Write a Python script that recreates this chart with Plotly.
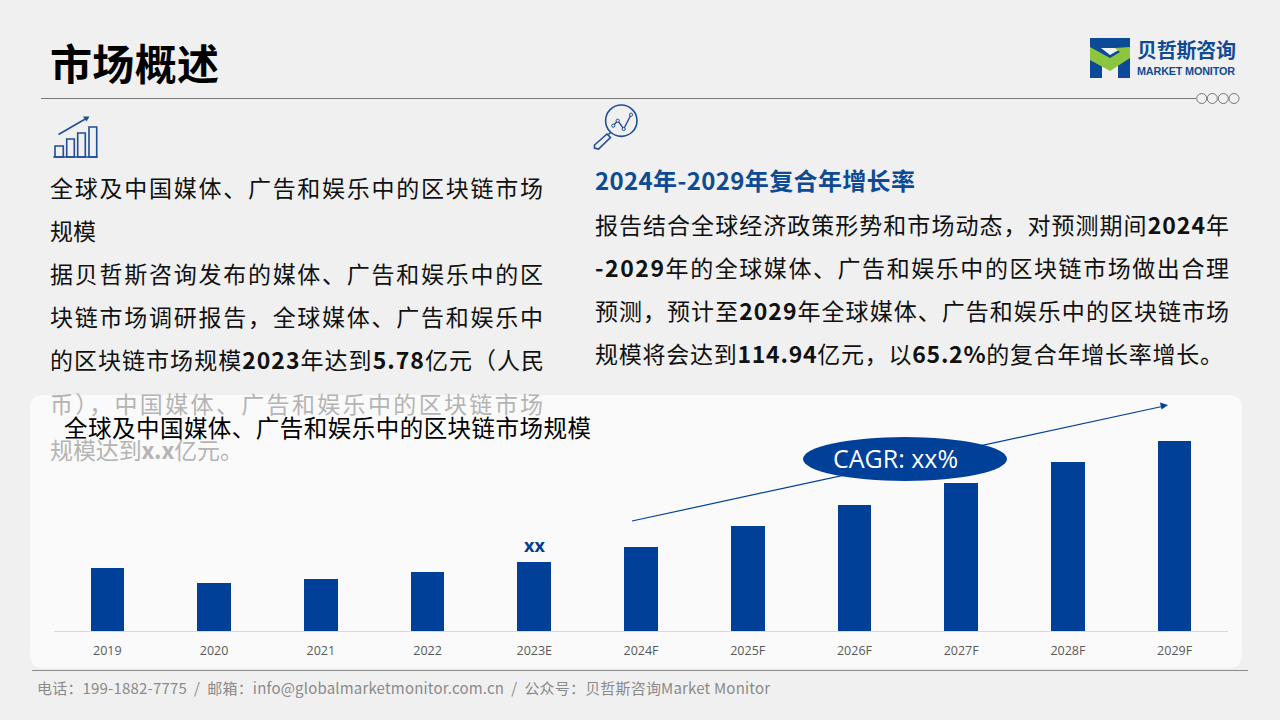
import json
import plotly.graph_objects as go

categories = ["2019", "2020", "2021", "2022", "2023E", "2024F", "2025F", "2026F", "2027F", "2028F", "2029F"]
values = [63, 48, 52, 59, 69, 84, 105, 126, 148, 169, 190]
bar_label = "xx"
bar_label_category = "2023E"
bar_label_value = 69

title_text = "市场概述"
left_lines = [
    "全球及中国媒体、广告和娱乐中的区块链市场",
    "规模",
    "据贝哲斯咨询发布的媒体、广告和娱乐中的区",
    "块链市场调研报告，全球媒体、广告和娱乐中",
    "的区块链市场规模<b>2023</b>年达到<b>5.78</b>亿元（人民",
]
left_faded_lines = ["币），中国媒体、广告和娱乐中的区块链市场", "规模达到<b>x.x</b>亿元。"]
right_heading = "<b>2024年-2029年复合年增长率</b>"
right_lines = [
    "报告结合全球经济政策形势和市场动态，对预测期间<b>2024</b>年",
    "<b>-2029</b>年的全球媒体、广告和娱乐中的区块链市场做出合理",
    "预测，预计至<b>2029</b>年全球媒体、广告和娱乐中的区块链市场",
    "规模将会达到<b>114.94</b>亿元，以<b>65.2%</b>的复合年增长率增长。",
]
chart_title = "全球及中国媒体、广告和娱乐中的区块链市场规模"
footer_text = "电话：199-1882-7775  /  邮箱：info@globalmarketmonitor.com.cn  /  公众号：贝哲斯咨询Market Monitor"
cagr_text = "CAGR: xx%"
logo_cn = "<b>贝哲斯咨询</b>"
logo_en = "<b>MARKET MONITOR</b>"

W, H = 1280, 720
BLUE = "#004098"
GREEN = "#8cc63f"
FONT = "Open Sans, Noto Sans CJK SC, sans-serif"
CJK = "Noto Sans CJK SC, Open Sans, sans-serif"


def px(x):
    return x / W


def py(y):
    return 1 - y / H


def note(text, x, y, size, color="#111111", anchor="left", family=CJK):
    return dict(text=text, x=px(x), y=py(y), xref="paper", yref="paper", showarrow=False,
                xanchor=anchor, yanchor="middle", align="left", borderpad=0,
                font=dict(size=size, color=color, family=family))


def path(d, fill="rgba(0,0,0,0)", line=None, width=1.5, layer="above"):
    return dict(type="path", path=d, xref="paper", yref="paper", fillcolor=fill, layer=layer,
                line=dict(color=line or "rgba(0,0,0,0)", width=width))


def pts(*p):
    return "M " + " L ".join(f"{px(a):.5f},{py(b):.5f}" for a, b in p) + " Z"


def open_pts(*p):
    return "M " + " L ".join(f"{px(a):.5f},{py(b):.5f}" for a, b in p)


def line(x0, y0, x1, y1, color, width=1.0, layer="above"):
    return dict(type="line", x0=px(x0), y0=py(y0), x1=px(x1), y1=py(y1), xref="paper", yref="paper",
                layer=layer, line=dict(color=color, width=width))


def circle(cx, cy, rx, ry=None, fill="rgba(0,0,0,0)", color=None, width=1.2):
    ry = ry if ry is not None else rx
    return dict(type="circle", x0=px(cx - rx), x1=px(cx + rx), y0=py(cy + ry), y1=py(cy - ry),
                xref="paper", yref="paper", layer="above", fillcolor=fill,
                line=dict(color=color or "rgba(0,0,0,0)", width=width))


def rounded(x0, y0, x1, y1, r):
    return (f"M {px(x0+r):.5f},{py(y0):.5f} L {px(x1-r):.5f},{py(y0):.5f} "
            f"Q {px(x1):.5f},{py(y0):.5f} {px(x1):.5f},{py(y0+r):.5f} L {px(x1):.5f},{py(y1-r):.5f} "
            f"Q {px(x1):.5f},{py(y1):.5f} {px(x1-r):.5f},{py(y1):.5f} L {px(x0+r):.5f},{py(y1):.5f} "
            f"Q {px(x0):.5f},{py(y1):.5f} {px(x0):.5f},{py(y1-r):.5f} L {px(x0):.5f},{py(y0+r):.5f} "
            f"Q {px(x0):.5f},{py(y0):.5f} {px(x0+r):.5f},{py(y0):.5f} Z")


fig = go.Figure(go.Bar(
    x=categories, y=values, width=0.315, marker=dict(color=BLUE, line=dict(width=0)),
    hoverinfo="skip",
))

shapes = [
    path(rounded(30, 395, 1242, 668, 14), fill="#fafafa", layer="below"),
    line(41, 98.5, 1196, 98.5, "#777777", 1, "below"),
    line(32, 670.5, 1248, 670.5, "#8a8a8a", 1, "below"),
]
for cx in (1201.7, 1212.3, 1223.3, 1234):
    shapes.append(circle(cx, 98.5, 5, color="#777777", width=1))

# CAGR arrow and oval
shapes += [
    line(632, 521, 1162, 406.5, BLUE, 1.2),
    path(pts((1168, 405), (1160, 402.5), (1161.5, 409.5)), fill=BLUE),
    circle(905, 459, 102, 22, fill=BLUE),
]

# logo
shapes += [
    path(pts((1090, 38), (1130, 38), (1130, 78), (1118, 78), (1118, 64), (1110, 70), (1102, 64), (1102, 78), (1090, 78)), fill="#0b4a97"),
    path(pts((1101, 48), (1122, 48), (1110, 55)), fill="#f0f0f0"),
    path(pts((1090, 47), (1110, 58), (1120, 52), (1115, 48), (1130, 47), (1130, 58), (1110, 71), (1090, 60)), fill=GREEN),
]

# left icon: rising bars
for x0, x1, top in ((55, 63.3, 146), (66.7, 74.3, 139), (77.7, 85.3, 133), (89, 96.7, 127)):
    shapes.append(path(pts((x0, 157), (x0, top), (x1, top), (x1, 157)), line="#1f4e96", width=1.6))
shapes += [
    line(53.3, 157, 97.7, 157, "#1f4e96", 1.6),
    line(58.5, 134.5, 87, 118, "#1f4e96", 1.5),
    path(pts((89.5, 116.5), (83, 116.5), (86.5, 121.5)), fill="#1f4e96"),
]

# right icon: magnifier
shapes += [
    circle(621.3, 120.7, 15.7, color="#1f4e96", width=1.6),
    path(open_pts((613.3, 125.7), (617.7, 120.7), (623.7, 129), (631, 114.7)), line="#1f4e96", width=1.4),
    line(611, 132, 608.5, 134.5, "#1f4e96", 1.6),
    path(pts((607, 134), (610.5, 137.5), (598.5, 149), (594.5, 148), (594.5, 145)), line="#1f4e96", width=1.6),
]
for cx, cy in ((613.3, 125.7), (617.7, 120.7), (623.7, 129), (631, 114.7)):
    shapes.append(circle(cx, cy, 1.6, fill="#f0f0f0", color="#1f4e96", width=1))

DX, DY = -2, -1
annotations, fit_widths = [], []


def add(text, x, y, size, color="#111111", anchor="left", family=CJK, fit=None):
    annotations.append(note(text, x + (DX if anchor == "left" else 0), y + DY, size, color, anchor, family))
    fit_widths.append(fit)


add(f"<b>{title_text}</b>", 51, 62, 42, "#000000", fit=169)
for text, y, w in zip(left_lines, (188, 231, 274, 317, 360), (493, 46, 493, 493, 494)):
    add(text, 51, y, 23, fit=w)
for text, y, w in zip(left_faded_lines, (404, 450), (493, 193)):
    add(text, 51, y, 23, "#b4b4b4", fit=w)
add(right_heading, 596, 180, 24, "#0f4a94", fit=320)
for text, y, w in zip(right_lines, (225, 268, 311, 354), (634, 634, 634, 628)):
    add(text, 596, y, 23, fit=w)
add(chart_title, 65, 428, 23.5, "#000000", fit=527)
add(cagr_text, 895, 459, 25, "#ffffff", "center", FONT)
add(footer_text, 38, 688, 15, "#8a8a8a", fit=733)
add(logo_cn, 1138, 51, 20, "#0f4a94", fit=99)
add(logo_en, 1138, 72, 10.8, "#0f4a94", family="Liberation Sans, Arial, sans-serif", fit=98)

annotations.append(dict(text=f"<b>{bar_label}</b>", x=bar_label_category, y=bar_label_value, xref="x", yref="y",
                        showarrow=False, xanchor="center", yanchor="bottom", yshift=3,
                        font=dict(size=18, color=BLUE, family=FONT)))
fit_widths.append(None)

fig.update_layout(
    width=W, height=H, autosize=False, margin=dict(l=0, r=0, t=0, b=0),
    paper_bgcolor="#f0f0f0", plot_bgcolor="rgba(0,0,0,0)", showlegend=False,
    shapes=shapes, annotations=annotations, bargap=0,
    xaxis=dict(domain=[px(54), px(1228)], type="category", range=[-0.5, 10.5], fixedrange=True,
               showgrid=False, showline=True, linecolor="#d9d9d9", linewidth=1, ticks="",
               tickfont=dict(size=12.5, color="#595959", family=FONT), ticklabelstandoff=8),
    yaxis=dict(domain=[py(631), py(395)], range=[0, 236], visible=False, fixedrange=True),
)

script = """
document.body.style.margin = '0';
document.body.style.overflow = 'hidden';
document.body.style.background = '#f0f0f0';
var fits = %s;
var fitText = function () {
  var texts = document.querySelectorAll('.annotation-text');
  texts.forEach(function (el, i) {
    if (!fits[i]) return;
    var n = el.textContent.length;
    el.style.letterSpacing = '0px';
    var gap = (fits[i] - el.getComputedTextLength()) / (n - 1);
    el.style.letterSpacing = gap.toFixed(3) + 'px';
  });
};
fitText();
if (document.fonts && document.fonts.ready) { document.fonts.ready.then(fitText); }
""" % json.dumps(fit_widths)
fig.write_html("out.html", post_script=script, config={"displayModeBar": False})
